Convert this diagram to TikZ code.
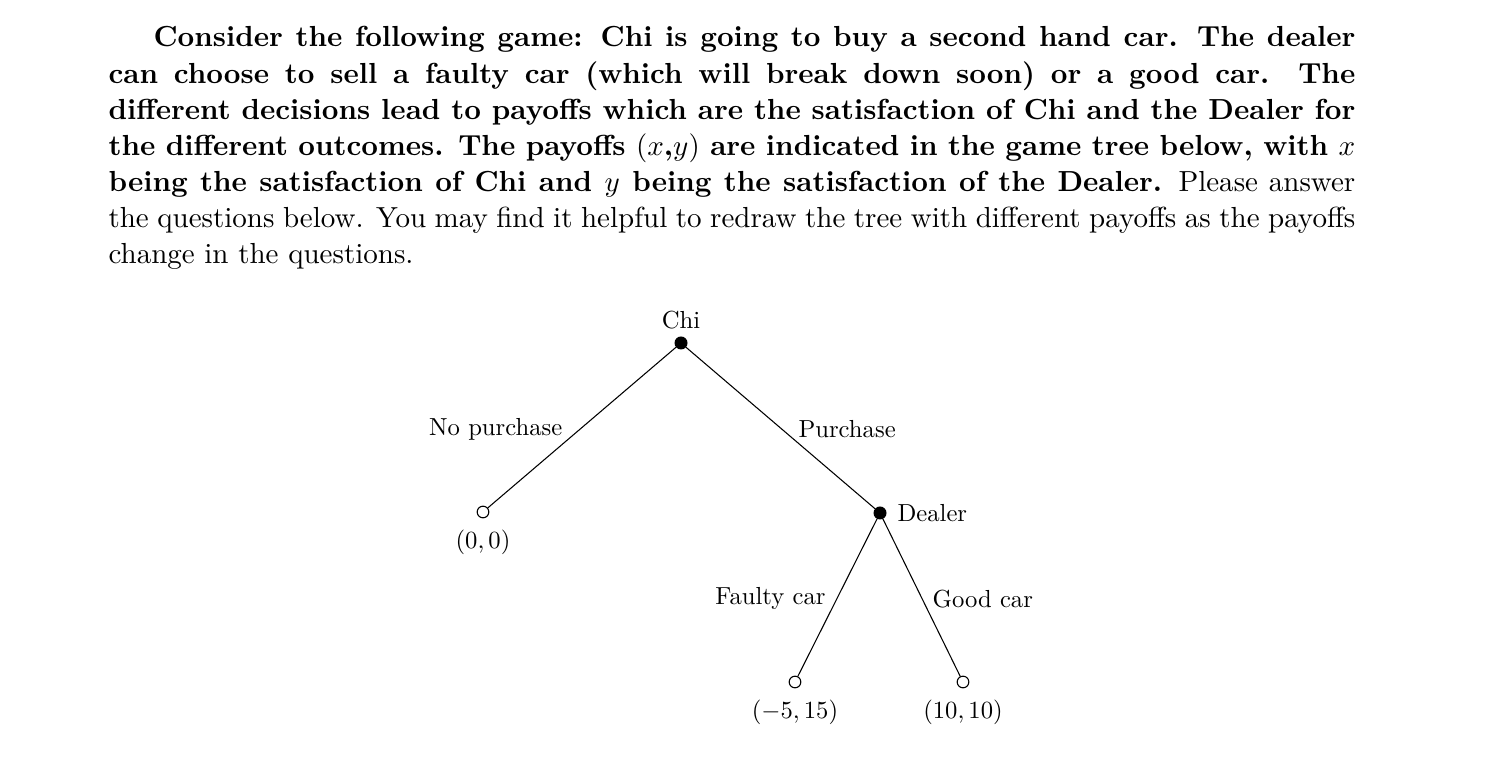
\documentclass[tikz,border=0pt]{standalone}
\newcommand{\treetxt}[1]{\scalebox{0.85}{#1}}
\begin{document}
\begin{tikzpicture}[x=0.37736pt,y=-0.37736pt,
  font=\fontsize{10.95}{13.6}\selectfont,
  decnode/.style={circle,fill=black,draw=black,line width=0.4pt,inner sep=0pt,minimum size=4.5pt},
  termnode/.style={circle,fill=white,draw=black,line width=0.4pt,inner sep=0pt,minimum size=4.4pt},
  treeedge/.style={draw=black,line width=0.4pt},
  treelab/.style={inner sep=0pt}]
\useasboundingbox (0,0) rectangle (1486,768);
\node[anchor=base west,inner sep=0pt] (para) at (108,47) {\parbox[t]{470.5pt}{\fontsize{10.95}{13.6}\selectfont\hspace*{17pt}\textbf{Consider the following game: Chi is going to buy a second hand car. The dealer can choose to sell a faulty car (which will break down soon) or a good car. The different decisions lead to payoffs which are the satisfaction of Chi and the Dealer for the different outcomes. The payoffs $(x$,$y)$ are indicated in the game tree below, with $x$\linebreak being the satisfaction of Chi and $y$ being the satisfaction of the Dealer.} Please answer the questions below. You may find it helpful to redraw the tree with different payoffs as the payoffs change in the questions.}};
\node[decnode] (chi) at (681,343) {};
\node[termnode] (np) at (483,512) {};
\node[decnode] (dealer) at (880,513) {};
\node[termnode] (faulty) at (795,682) {};
\node[termnode] (good) at (963,682) {};
\node[treelab,anchor=base] (chilab) at (681,329) {\treetxt{Chi}};
\node[treelab,anchor=base west] (deallab) at (897,522) {\treetxt{Dealer}};
\node[treelab,anchor=base] (nplab) at (483,549) {\treetxt{$(0,0)$}};
\node[treelab,anchor=base] (faultylab) at (795,719) {\treetxt{$(-5,15)$}};
\node[treelab,anchor=base] (goodlab) at (963,719) {\treetxt{$(10,10)$}};
\draw[treeedge] (chi) -- node[treelab,pos=0.5,anchor=base east,xshift=-7.2pt,yshift=-2.9pt] {\treetxt{No purchase}} (np);
\draw[treeedge] (chi) -- node[treelab,pos=0.5,anchor=base west,xshift=6.6pt,yshift=-3.4pt] {\treetxt{Purchase}} (dealer);
\draw[treeedge] (dealer) -- node[treelab,pos=0.5,anchor=base east,xshift=-4.3pt,yshift=-2.5pt] {\treetxt{Faulty car}} (faulty);
\draw[treeedge] (dealer) -- node[treelab,pos=0.5,anchor=base west,xshift=4pt,yshift=-3.6pt] {\treetxt{Good car}} (good);
\end{tikzpicture}
\end{document}
